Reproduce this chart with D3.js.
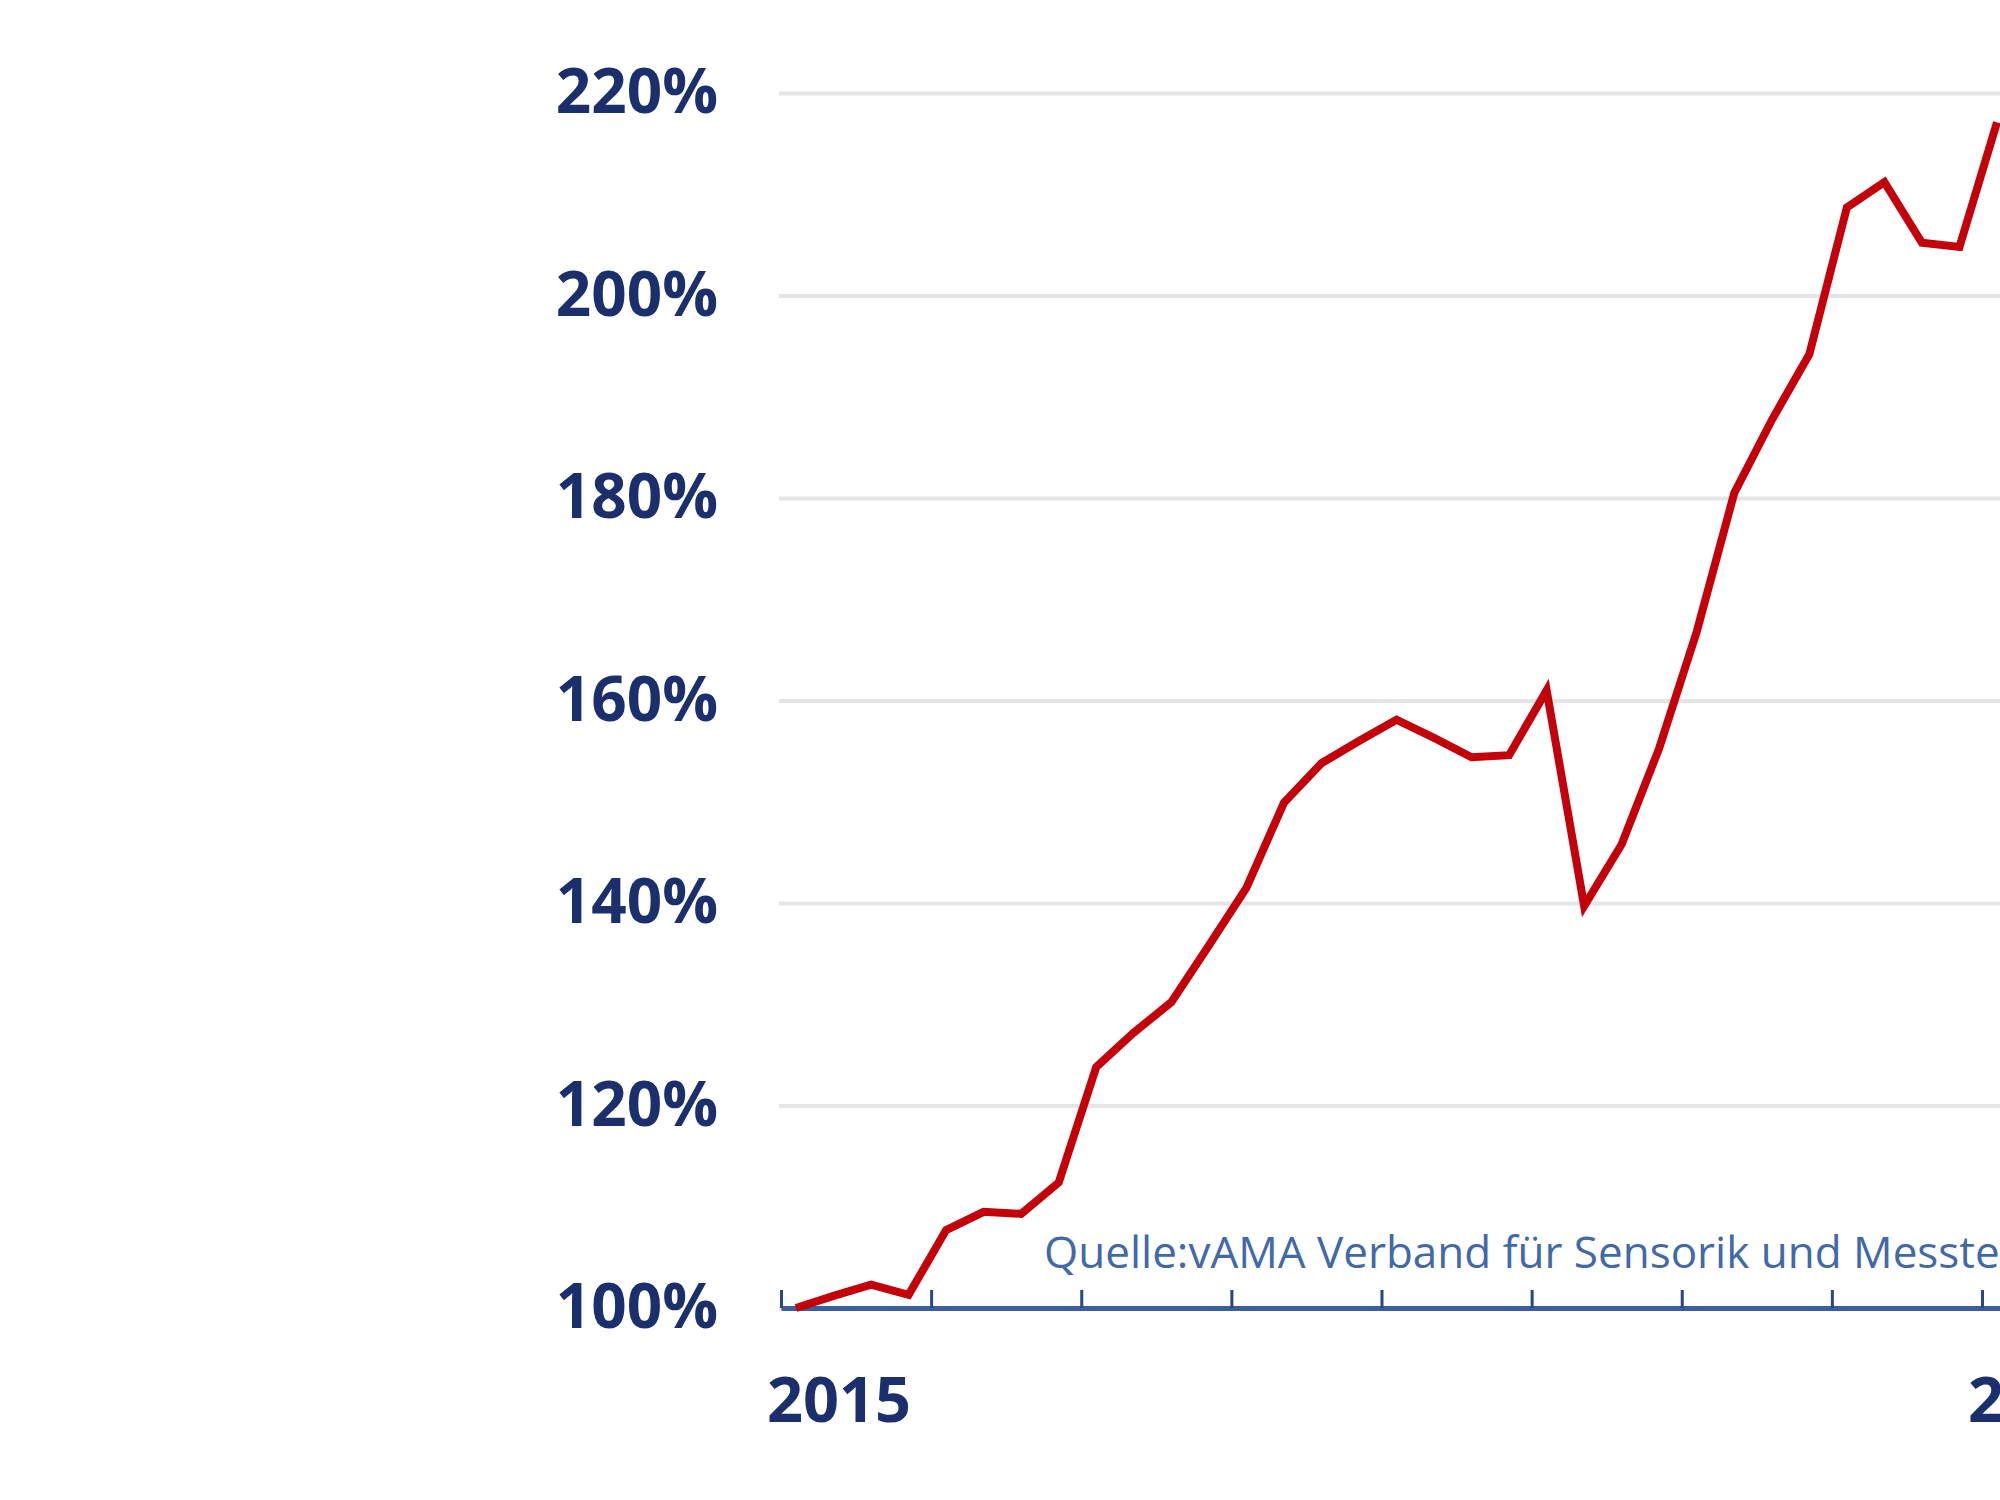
<!DOCTYPE html>
<html>
<head>
<meta charset="utf-8">
<script src="https://cdn.jsdelivr.net/npm/d3@7"></script>
<style>
  html, body { margin: 0; padding: 0; background: #fff; overflow: hidden; }
  svg { display: block; }
</style>
</head>
<body>
<svg id="chart" width="2000" height="1500"></svg>
<script>
// ──────────────────────
// Data (index, 2015 Q1 = 100%)
// ──────────────────────
const quarters = [
  "2015Q1","2015Q2","2015Q3","2015Q4",
  "2016Q1","2016Q2","2016Q3","2016Q4",
  "2017Q1","2017Q2","2017Q3","2017Q4",
  "2018Q1","2018Q2","2018Q3","2018Q4",
  "2019Q1","2019Q2","2019Q3","2019Q4",
  "2020Q1","2020Q2","2020Q3","2020Q4",
  "2021Q1","2021Q2","2021Q3","2021Q4",
  "2022Q1","2022Q2","2022Q3","2022Q4",
  "2023Q1"
];
const indexValues = [
  100.0, 101.2, 102.3, 101.3,
  107.7, 109.5, 109.3, 112.4,
  123.8, 127.2, 130.2, 135.8,
  141.5, 149.9, 153.8, 156.0,
  158.1, 156.3, 154.4, 154.6,
  161.0, 139.7, 145.8, 155.3,
  166.8, 180.5, 187.7, 194.2,
  208.7, 211.2, 205.2, 204.8,
  217.1
];
const yTicks = [100, 120, 140, 160, 180, 200, 220];
const yearTicks = [2015, 2016, 2017, 2018, 2019, 2020, 2021, 2022, 2023];
const yearLabels = [2015, 2023];
const sourceText = "Quelle:vAMA Verband für Sensorik und Messtechnik";

const data = quarters.map((q, i) => ({
  year: +q.slice(0, 4),
  q: +q.slice(5),
  value: indexValues[i]
}));

// ──────────────────────
// Layout & scales
// ──────────────────────
const svg = d3.select("#chart");
const width = 2000;
const plotLeft = 781;
const font = "'Open Sans', 'DejaVu Sans', sans-serif";

const x = d3.scaleLinear()
  .domain([2015, 2023 + (width - 1982) / 150])
  .range([plotLeft, width]);

const y = d3.scaleLinear()
  .domain([100, 220])
  .range([1308, 93]);

// quarter points sit a little after the year tick
const qx = d => x(d.year + (d.q - 1) / 4 + 0.1);

// ──────────────────────
// Grid + y labels
// ──────────────────────
const yAxis = svg.append("g")
  .attr("transform", `translate(${plotLeft - 2}, 0)`)
  .call(d3.axisLeft(y)
    .tickValues(yTicks)
    .tickSize(-(width - plotLeft + 2))
    .tickPadding(61)
    .tickFormat(d => d + "%"));

yAxis.select(".domain").remove();
yAxis.selectAll(".tick line")
  .attr("stroke", "#e5e5e5")
  .attr("stroke-width", 4);
yAxis.selectAll(".tick text")
  .attr("fill", "#1c2f6d")
  .attr("font-family", font)
  .attr("font-weight", "bold")
  .attr("font-size", "62px");

// ──────────────────────
// X axis
// ──────────────────────
const xAxis = svg.append("g")
  .attr("transform", `translate(0, ${y(100)})`)
  .call(d3.axisBottom(x)
    .tickValues(yearTicks)
    .tickSizeInner(-18)
    .tickSizeOuter(0)
    .tickFormat(""));

xAxis.select(".domain")
  .attr("stroke", "#3b5f9d")
  .attr("stroke-width", 5);
xAxis.selectAll(".tick line")
  .attr("stroke", "#28467f")
  .attr("stroke-width", 3);

svg.selectAll(".year-label")
  .data(yearLabels)
  .enter()
  .append("text")
  .attr("class", "year-label")
  .attr("x", d => x(d) - 14)
  .attr("y", 1422)
  .attr("fill", "#1c2f6d")
  .attr("font-family", font)
  .attr("font-weight", "bold")
  .attr("font-size", "63px")
  .text(d => d);

// Source
svg.append("text")
  .attr("x", 1044)
  .attr("y", 1268)
  .attr("fill", "#4169a8")
  .attr("font-family", font)
  .attr("font-size", "44px")
  .text(sourceText);

// ──────────────────────
// Line
// ──────────────────────
const line = d3.line()
  .x(qx)
  .y(d => y(d.value));

svg.append("path")
  .datum(data)
  .attr("fill", "none")
  .attr("stroke", "#c4000b")
  .attr("stroke-width", 8)
  .attr("stroke-linejoin", "miter")
  .attr("d", line);
</script>
</body>
</html>
